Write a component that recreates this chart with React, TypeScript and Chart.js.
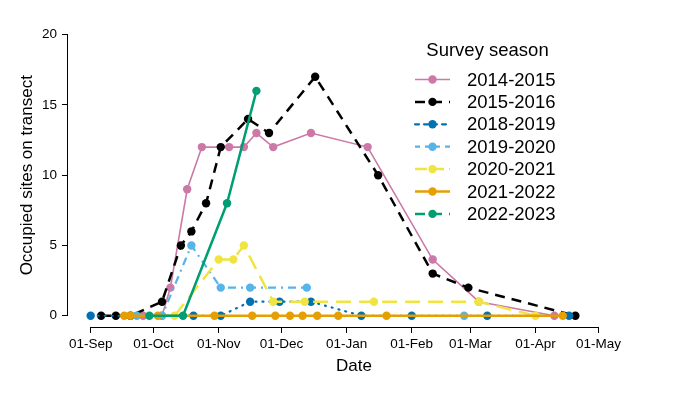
import React, { useEffect, useRef } from "react";
import { Chart, registerables } from "chart.js";
Chart.register(...registerables);

// ---- axis ticks ----
const monthLabels = ["01-Sep", "01-Oct", "01-Nov", "01-Dec", "01-Jan", "01-Feb", "01-Mar", "01-Apr", "01-May"];
const monthStartDays = [0, 30, 61, 91, 122, 153, 181, 212, 242];
const yTicks = [0, 5, 10, 15, 20];

// ---- series (survey dates as MM-DD within season, occupied sites) ----
const seasons = ["2014-2015", "2015-2016", "2018-2019", "2019-2020", "2020-2021", "2021-2022", "2022-2023"];

const dates1415 = ["09-26", "10-05", "10-09", "10-17", "10-24", "11-06", "11-13", "11-19", "11-27", "12-15", "01-11", "02-11", "03-05", "04-10"];
const sites1415 = [0, 0, 2, 9, 12, 12, 12, 13, 12, 13, 12, 4, 1, 0];

const dates1516 = ["09-06", "09-13", "09-20", "10-05", "10-14", "10-19", "10-26", "11-02", "11-15", "11-25", "12-17", "01-16", "02-11", "02-28", "04-20"];
const sites1516 = [0, 0, 0, 1, 5, 6, 8, 12, 14, 13, 17, 10, 3, 2, 0];

const dates1819 = ["09-01", "10-20", "11-02", "11-16", "11-30", "12-15", "01-08", "02-01", "03-09", "04-17"];
const sites1819 = [0, 0, 0, 1, 1, 1, 0, 0, 0, 0];

const dates1920 = ["09-23", "10-05", "10-19", "11-02", "11-16", "12-13", "01-01", "02-26"];
const sites1920 = [0, 0, 5, 2, 2, 2, null, 0];

const dates2021 = ["10-11", "11-01", "11-08", "11-13", "11-27", "12-12", "01-14", "03-05", "04-01"];
const sites2021 = [0, 4, 4, 5, 1, 1, 1, 1, 0];

const dates2122 = ["09-17", "09-20", "10-03", "10-30", "11-17", "11-28", "12-05", "12-11", "12-18", "12-28", "01-20", "04-14"];
const sites2122 = [0, 0, 0, 0, 0, 0, 0, 0, 0, 0, 0, 0];

const dates2223 = ["09-29", "10-15", "11-05", "11-19"];
const sites2223 = [0, 0, 8, 16];

const MONTH_OFFSET: Record<number, number> = { 9: 0, 10: 30, 11: 61, 12: 91, 1: 122, 2: 153, 3: 181, 4: 212, 5: 242 };
function dayOfSeason(md: string): number {
  const [m, d] = md.split("-").map(Number);
  return MONTH_OFFSET[m] + d - 1;
}

const allDates = [dates1415, dates1516, dates1819, dates1920, dates2021, dates2122, dates2223];
const allSites = [sites1415, sites1516, sites1819, sites1920, sites2021, sites2122, sites2223];

type Sty = { color: string; width: number; dash: number[]; cap: CanvasLineCap; legendDash: number[] };
const styles: Sty[] = [
  { color: "#CC79A7", width: 1.6, dash: [], cap: "butt", legendDash: [] },
  { color: "#000000", width: 2.5, dash: [10, 7], cap: "butt", legendDash: [10, 7] },
  { color: "#0072B2", width: 2.2, dash: [1, 6], cap: "round", legendDash: [4, 5] },
  { color: "#56B4E9", width: 2.2, dash: [8, 5, 2, 5], cap: "butt", legendDash: [5, 5] },
  { color: "#F0E442", width: 2.5, dash: [15, 8], cap: "butt", legendDash: [12, 5] },
  { color: "#E69F00", width: 2.5, dash: [], cap: "butt", legendDash: [] },
  { color: "#009E73", width: 2.5, dash: [], cap: "butt", legendDash: [10, 7] },
];

const FONT = "'Liberation Sans', Arial, sans-serif";

const rAxes = {
  id: "rAxes",
  afterDraw(chart: any) {
    const { ctx, chartArea } = chart;
    const x = chart.scales.x;
    const y = chart.scales.y;
    ctx.save();
    ctx.strokeStyle = "#000";
    ctx.lineWidth = 1;
    ctx.beginPath();
    const yb = Math.round(chartArea.bottom) + 0.5;
    ctx.moveTo(x.getPixelForValue(monthStartDays[0]), yb);
    ctx.lineTo(x.getPixelForValue(monthStartDays[monthStartDays.length - 1]), yb);
    const xl = Math.round(chartArea.left) - 0.5;
    ctx.moveTo(xl, y.getPixelForValue(yTicks[0]));
    ctx.lineTo(xl, y.getPixelForValue(yTicks[yTicks.length - 1]));
    ctx.stroke();
    ctx.restore();
  },
};

const rLegend = {
  id: "rLegend",
  afterDraw(chart: any) {
    const { ctx } = chart;
    ctx.save();
    ctx.fillStyle = "#000";
    ctx.font = `18.5px ${FONT}`;
    ctx.textBaseline = "middle";
    ctx.textAlign = "center";
    ctx.fillText("Survey season", 487.5, 51);
    ctx.textAlign = "left";
    const x0 = 415, x1 = 450, xt = 467, y0 = 79.5, step = 22.4;
    seasons.forEach((s, i) => {
      const st = styles[i];
      const yy = y0 + i * step;
      ctx.strokeStyle = st.color;
      ctx.lineWidth = st.width;
      ctx.lineCap = st.cap;
      ctx.setLineDash(st.legendDash);
      ctx.beginPath();
      ctx.moveTo(x0, yy);
      ctx.lineTo(x1, yy);
      ctx.stroke();
      ctx.setLineDash([]);
      ctx.fillStyle = st.color;
      ctx.beginPath();
      ctx.arc((x0 + x1) / 2, yy, 4.2, 0, Math.PI * 2);
      ctx.fill();
      ctx.fillStyle = "#000";
      ctx.fillText(s, xt, yy + 1);
    });
    ctx.restore();
  },
};

export default function App() {
  const ref = useRef<HTMLCanvasElement | null>(null);
  useEffect(() => {
    document.body.style.margin = "0";
    const canvas = ref.current;
    if (!canvas) return;
    const datasets = seasons.map((s, i) => ({
      label: s,
      data: allDates[i].map((d, j) => ({ x: dayOfSeason(d), y: allSites[i][j] })),
      borderColor: styles[i].color,
      backgroundColor: styles[i].color,
      borderWidth: styles[i].width,
      borderDash: styles[i].dash,
      borderCapStyle: styles[i].cap,
      pointRadius: 4.2,
      pointBorderWidth: 0,
      pointBackgroundColor: styles[i].color,
      pointHoverRadius: 4.2,
      tension: 0,
      spanGaps: false,
      order: seasons.length - i,
      clip: false as any,
    }));
    const chart = new Chart(canvas, {
      type: "line",
      data: { datasets },
      plugins: [rAxes, rLegend],
      options: {
        animation: false,
        responsive: false,
        devicePixelRatio: 1,
        events: [],
        layout: { padding: { top: 23.4, right: 40, left: 0, bottom: 0 } },
        plugins: { legend: { display: false }, tooltip: { enabled: false } },
        scales: {
          x: {
            type: "linear",
            min: -10.8,
            max: 261.8,
            afterBuildTicks: (sc: any) => {
              sc.ticks = monthStartDays.map((v) => ({ value: v }));
            },
            afterFit: (sc: any) => {
              sc.height = 69;
            },
            ticks: {
              autoSkip: false,
              maxRotation: 0,
              color: "#000",
              padding: 3,
              font: { family: FONT, size: 13.5 },
              callback: (_v: any, i: number) => monthLabels[i],
            },
            grid: { drawOnChartArea: false, drawTicks: true, tickLength: 6, color: "#000", lineWidth: 1 },
            border: { display: false },
            title: {
              display: true,
              text: "Date",
              color: "#000",
              font: { family: FONT, size: 17 },
              padding: { top: 0, bottom: 19 },
            },
          },
          y: {
            type: "linear",
            min: -0.8,
            max: 20.8,
            afterBuildTicks: (sc: any) => {
              sc.ticks = yTicks.map((v) => ({ value: v }));
            },
            afterFit: (sc: any) => {
              sc.width = 68;
            },
            ticks: {
              color: "#000",
              padding: 5,
              font: { family: FONT, size: 13.5 },
              callback: (v: any) => String(v),
            },
            grid: { drawOnChartArea: false, drawTicks: true, tickLength: 6, color: "#000", lineWidth: 1 },
            border: { display: false },
            title: {
              display: true,
              text: "Occupied sites on transect",
              color: "#000",
              font: { family: FONT, size: 17 },
              padding: { top: 17, bottom: 0 },
            },
          },
        },
      },
    });
    return () => chart.destroy();
  }, []);
  return (
    <div style={{ width: 680, height: 396, background: "#fff" }}>
      <canvas ref={ref} width={680} height={396} style={{ display: "block" }} />
    </div>
  );
}
